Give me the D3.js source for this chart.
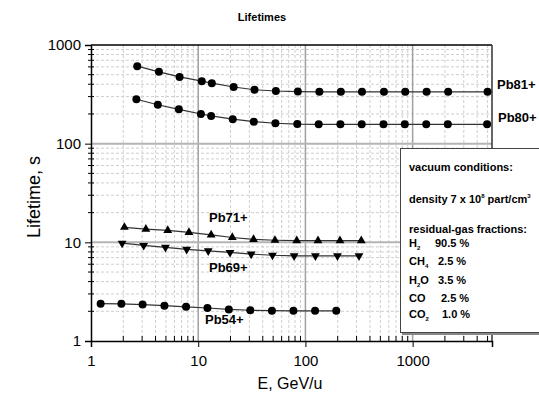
<!DOCTYPE html>
<html>
<head>
<meta charset="utf-8">
<script src="https://cdn.jsdelivr.net/npm/d3@7"></script>
<style>
  body { margin: 0; background: #fff; }
  text { font-family: "Liberation Sans", Arial, sans-serif; }
</style>
</head>
<body>
<div id="chart"></div>
<script>
// energies (GeV/u) and lifetimes (s)
const ePb81 = [2.7, 4.3, 6.7, 10.8, 13.4, 21.4, 33.5, 53, 85, 135, 214, 337, 540, 853, 1350, 2145, 5000];
const tPb81 = [610, 535, 475, 430, 410, 375, 352, 342, 337, 335, 335, 335, 335, 335, 335, 335, 335];
const ePb80 = [2.65, 4.2, 6.6, 10.6, 13.2, 21, 33, 52.5, 84, 133, 212, 335, 535, 845, 1340, 2130, 4950];
const tPb80 = [282, 248, 223, 200, 191, 177, 167, 161, 158, 157, 157, 157, 157, 157, 157, 157, 157];
const ePb71 = [2.05, 3.25, 5.2, 8.2, 13.2, 20.8, 32.8, 52, 83, 131, 210, 332];
const tPb71 = [14.2, 13.6, 13.2, 12.6, 11.9, 11.2, 10.7, 10.5, 10.4, 10.4, 10.4, 10.4];
const ePb69 = [1.95, 3.1, 4.95, 7.8, 12.4, 19.8, 31.2, 49.3, 78.5, 124, 199, 316];
const tPb69 = [9.8, 9.3, 8.9, 8.5, 8.2, 7.9, 7.6, 7.4, 7.3, 7.3, 7.3, 7.3];
const ePb54 = [1.23, 1.92, 3.03, 4.84, 7.7, 12.2, 19.3, 30.6, 48.7, 77.3, 123, 194];
const tPb54 = [2.39, 2.38, 2.34, 2.28, 2.22, 2.16, 2.09, 2.05, 2.03, 2.02, 2.02, 2.02];

const xTicks = [1, 10, 100, 1000];
const yTicks = [1, 10, 100, 1000];

const series = [
  { name: 'Pb81+', e: ePb81, t: tPb81, sym: 'circle' },
  { name: 'Pb80+', e: ePb80, t: tPb80, sym: 'circle' },
  { name: 'Pb71+', e: ePb71, t: tPb71, sym: 'up' },
  { name: 'Pb69+', e: ePb69, t: tPb69, sym: 'down' },
  { name: 'Pb54+', e: ePb54, t: tPb54, sym: 'circle' }
];

var svgWidth = 539, svgHeight = 395;
var pLeft = 91, pTop = 45, pRight = 492, pBottom = 341;

var svg = d3.select('#chart').append('svg')
  .attr('width', svgWidth)
  .attr('height', svgHeight);

var x = d3.scaleLog().domain([1, 5500]).range([pLeft, pRight]);
var y = d3.scaleLog().domain([1, 1000]).range([pBottom, pTop]);

// minor grid
var minorX = [], minorY = [];
for (var d = 1; d <= 1000; d *= 10) {
  for (var k = 2; k <= 9; k++) {
    if (d * k < 5500) minorX.push(d * k);
    if (d * k < 1000) minorY.push(d * k);
  }
}

var grid = svg.append('g');
grid.selectAll('.vx').data(minorX).enter().append('line')
  .attr('x1', d => x(d)).attr('x2', d => x(d))
  .attr('y1', pTop).attr('y2', pBottom)
  .attr('stroke', '#cfcfcf').attr('stroke-dasharray', '3,2');
grid.selectAll('.hy').data(minorY).enter().append('line')
  .attr('y1', d => y(d)).attr('y2', d => y(d))
  .attr('x1', pLeft).attr('x2', pRight)
  .attr('stroke', '#cfcfcf').attr('stroke-dasharray', '3,2');
grid.selectAll('.mx').data([10, 100, 1000]).enter().append('line')
  .attr('x1', d => x(d)).attr('x2', d => x(d))
  .attr('y1', pTop).attr('y2', pBottom)
  .attr('stroke', '#a0a0a0').attr('stroke-width', 1.5);
grid.selectAll('.my').data([10, 100]).enter().append('line')
  .attr('y1', d => y(d)).attr('y2', d => y(d))
  .attr('x1', pLeft).attr('x2', pRight)
  .attr('stroke', '#b4b4b4').attr('stroke-width', 2);

// frame top / right
svg.append('line').attr('x1', pLeft).attr('x2', pRight).attr('y1', pTop).attr('y2', pTop)
  .attr('stroke', '#000').attr('stroke-width', 1.5);
svg.append('line').attr('x1', pRight).attr('x2', pRight).attr('y1', pTop).attr('y2', pBottom)
  .attr('stroke', '#333').attr('stroke-width', 1.5);

// axes
var xaxis = d3.axisBottom(x).tickValues(xTicks).tickFormat(d3.format('d')).tickSize(6).tickPadding(8);
var gx = svg.append('g').attr('transform', 'translate(0,' + pBottom + ')').call(xaxis);
gx.select('.domain').attr('stroke-width', 1.5);
gx.selectAll('text').style('font-size', '15px').attr('fill', '#000');
gx.selectAll('.minor').data(minorX).enter().append('line')
  .attr('x1', d => x(d)).attr('x2', d => x(d)).attr('y1', 0).attr('y2', -5)
  .attr('stroke', '#000');

var yaxis = d3.axisLeft(y).tickValues(yTicks).tickFormat(d3.format('d')).tickSize(6).tickPadding(4);
var gy = svg.append('g').attr('transform', 'translate(' + pLeft + ',0)').call(yaxis);
gy.select('.domain').attr('stroke-width', 1.5);
gy.selectAll('text').style('font-size', '15px').attr('fill', '#000');
gy.selectAll('.minor').data(minorY).enter().append('line')
  .attr('y1', d => y(d)).attr('y2', d => y(d)).attr('x1', -3).attr('x2', 3)
  .attr('stroke', '#000');

// series
var line = d3.line();
var tri = d3.symbol().type(d3.symbolTriangle).size(34);
series.forEach(s => {
  var pts = s.e.map((e, i) => [x(e), y(s.t[i])]);
  svg.append('path').attr('d', line(pts))
    .attr('fill', 'none').attr('stroke', '#333').attr('stroke-width', 1.2);
  var g = svg.append('g');
  pts.forEach(p => {
    if (s.sym === 'circle') {
      g.append('circle').attr('cx', p[0]).attr('cy', p[1]).attr('r', 4).attr('fill', '#000');
    } else {
      g.append('path').attr('d', tri())
        .attr('transform', 'translate(' + p[0] + ',' + p[1] + ')' + (s.sym === 'down' ? ' rotate(180)' : ''))
        .attr('fill', '#000');
    }
  });
});

// series labels
var labels = [
  { t: 'Pb81+', x: 497, y: 89 },
  { t: 'Pb80+', x: 498, y: 122 },
  { t: 'Pb71+', x: 209, y: 222 },
  { t: 'Pb69+', x: 209, y: 272 },
  { t: 'Pb54+', x: 205, y: 324 }
];
svg.selectAll('.lbl').data(labels).enter().append('text')
  .attr('x', d => d.x).attr('y', d => d.y)
  .style('font-size', '13px').style('font-weight', 'bold')
  .text(d => d.t);

// info box
svg.append('rect').attr('x', 402).attr('y', 150).attr('width', 150).attr('height', 185).attr('fill', '#888');
svg.append('rect').attr('x', 400.5).attr('y', 148.5).attr('width', 150).attr('height', 184)
  .attr('fill', '#fff').attr('stroke', '#444').attr('stroke-width', 1);

var box = svg.append('g').style('font-size', '11px').style('font-weight', 'bold');
box.append('text').attr('x', 409).attr('y', 171).text('vacuum conditions:');
var den = box.append('text').attr('x', 409).attr('y', 203);
den.append('tspan').text('density 7 x 10');
den.append('tspan').attr('dy', -5).style('font-size', '6px').text('8');
den.append('tspan').attr('dy', 5).text(' part/cm');
den.append('tspan').attr('dy', -5).style('font-size', '6px').text('3');
box.append('text').attr('x', 409).attr('y', 233).text('residual-gas fractions:');

var gases = [
  { a: 'H', s: '2', b: '', v: '90.5 %', vx: 435, y: 247 },
  { a: 'CH', s: '4', b: '', v: '2.5 %', vx: 438, y: 265 },
  { a: 'H', s: '2', b: 'O', v: '3.5 %', vx: 438, y: 284 },
  { a: 'CO', s: '', b: '', v: '2.5 %', vx: 441, y: 302 },
  { a: 'CO', s: '2', b: '', v: '1.0 %', vx: 442, y: 318 }
];
gases.forEach(g => {
  var t = box.append('text').attr('x', 409).attr('y', g.y);
  t.append('tspan').text(g.a);
  if (g.s) {
    t.append('tspan').attr('dy', 3).style('font-size', '6px').text(g.s);
    t.append('tspan').attr('dy', -3).text(g.b);
  }
  box.append('text').attr('x', g.vx).attr('y', g.y).text(g.v);
});

// titles
svg.append('text').attr('x', 262).attr('y', 21).attr('text-anchor', 'middle')
  .style('font-size', '11px').style('font-weight', 'bold').text('Lifetimes');
svg.append('text').attr('x', 290).attr('y', 389).attr('text-anchor', 'middle')
  .style('font-size', '16px').text('E, GeV/u');
svg.append('text').attr('transform', 'translate(40,197) rotate(-90)').attr('text-anchor', 'middle')
  .style('font-size', '18px').text('Lifetime, s');
</script>
</body>
</html>
